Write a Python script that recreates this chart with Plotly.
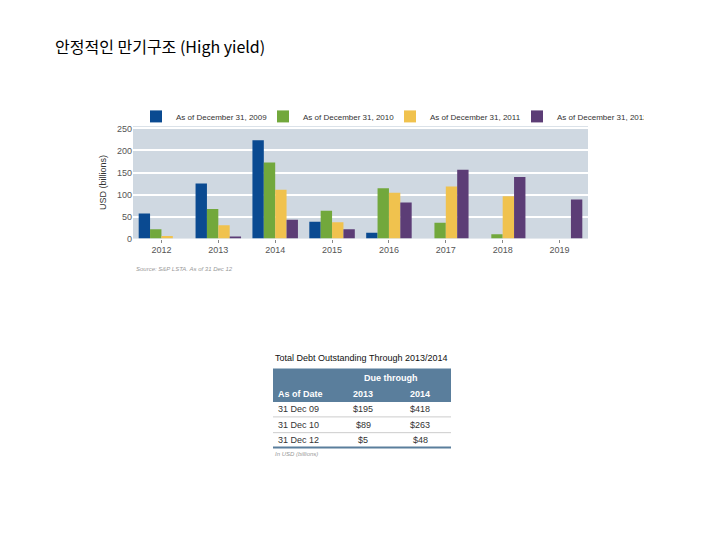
import plotly.graph_objects as go

years = ["2012", "2013", "2014", "2015", "2016", "2017", "2018", "2019"]
series_names = ["As of December 31, 2009", "As of December 31, 2010",
                "As of December 31, 2011", "As of December 31, 2012"]
v2009 = [57, 125, 223, 38, 13, 0, 0, 0]
v2010 = [21, 67, 173, 63, 114, 36, 10, 0]
v2011 = [6, 30, 111, 37, 104, 118, 96, 0]
v2012 = [0, 5, 43, 21, 82, 156, 140, 89]
colors = ["#0a4a91", "#72a83c", "#f0c24e", "#5c3d76"]

table_dates = ["31 Dec 09", "31 Dec 10", "31 Dec 12"]
table_2013 = ["$195", "$89", "$5"]
table_2014 = ["$418", "$263", "$48"]

fig = go.Figure()
for name, vals, c in zip(series_names, [v2009, v2010, v2011, v2012], colors):
    fig.add_trace(go.Bar(x=years, y=vals, name=name, marker_color=c, marker_line_width=0))

W, H = 720, 540
def px_x(x): return x / W
def px_y(y): return 1 - y / H

def note(x, y, text, size=9, color="#333", anchor="left", family=None):
    font = dict(size=size, color=color)
    if family:
        font["family"] = family
    fig.add_annotation(x=px_x(x), y=px_y(y), xref="paper", yref="paper", xanchor=anchor,
                       yanchor="middle", text=text, showarrow=False, font=font)

fig.update_layout(
    width=W, height=H, margin=dict(l=0, r=0, t=0, b=0),
    paper_bgcolor="white", plot_bgcolor="#cfd8e1",
    font=dict(family="Liberation Sans", size=9, color="#555"),
    barmode="group", bargap=0.2, bargroupgap=0,
    showlegend=True,
    legend=dict(orientation="h", x=px_x(128), y=px_y(107), xanchor="left", yanchor="middle",
                font=dict(size=8, color="#333"), entrywidth=82, entrywidthmode="pixels",
                itemwidth=30, bgcolor="rgba(0,0,0,0)"),
    xaxis=dict(domain=[px_x(125), px_x(580)], showgrid=False, ticks="outside",
               ticklen=3, tickcolor="#888", tickfont=dict(size=9, color="#555")),
    yaxis=dict(domain=[px_y(231), px_y(117)], range=[0, 255], dtick=50,
               gridcolor="white", gridwidth=1.5, zeroline=False,
               tickfont=dict(size=9, color="#555"),
               title=dict(text="USD (billions)", font=dict(size=9, color="#333"), standoff=8)),
)

note(45, 36, "안정적인 만기구조 (High yield)", size=16, color="black", family="Noto Sans CJK KR")
note(126, 262, "<i>Source: S&P LSTA. As of 31 Dec 12</i>", size=6, color="#999")

# table
tx0, tx1 = 265, 443
note(tx0, 352, "Total Debt Outstanding Through 2013/2014", size=9, color="#111")
fig.add_shape(type="rect", xref="paper", yref="paper", x0=px_x(tx0), x1=px_x(tx1),
              y0=px_y(397), y1=px_y(363), fillcolor="#5a7e9c", line_width=0)
col_x = [268, 355, 412]
anchors = ["left", "center", "center"]
note(383, 373, "<b>Due through</b>", color="white", anchor="center")
for x, t, anc in zip(col_x, ["As of Date", "2013", "2014"], anchors):
    note(x, 389, "<b>" + t + "</b>", color="white", anchor=anc)
row_y = [404, 420, 435]
for i, (d, a, b) in enumerate(zip(table_dates, table_2013, table_2014)):
    for x, t, anc in zip(col_x, [d, a, b], anchors):
        note(x, row_y[i], t, anchor=anc)
    yl = row_y[i] + 8
    fig.add_shape(type="line", xref="paper", yref="paper", x0=px_x(tx0), x1=px_x(tx1),
                  y0=px_y(yl), y1=px_y(yl),
                  line=dict(color="#5a7e9c" if i == 2 else "#ccc", width=2 if i == 2 else 1))
note(tx0, 450, "<i>In USD (billions)</i>", size=6, color="#999")

fig.write_html("out.html")
